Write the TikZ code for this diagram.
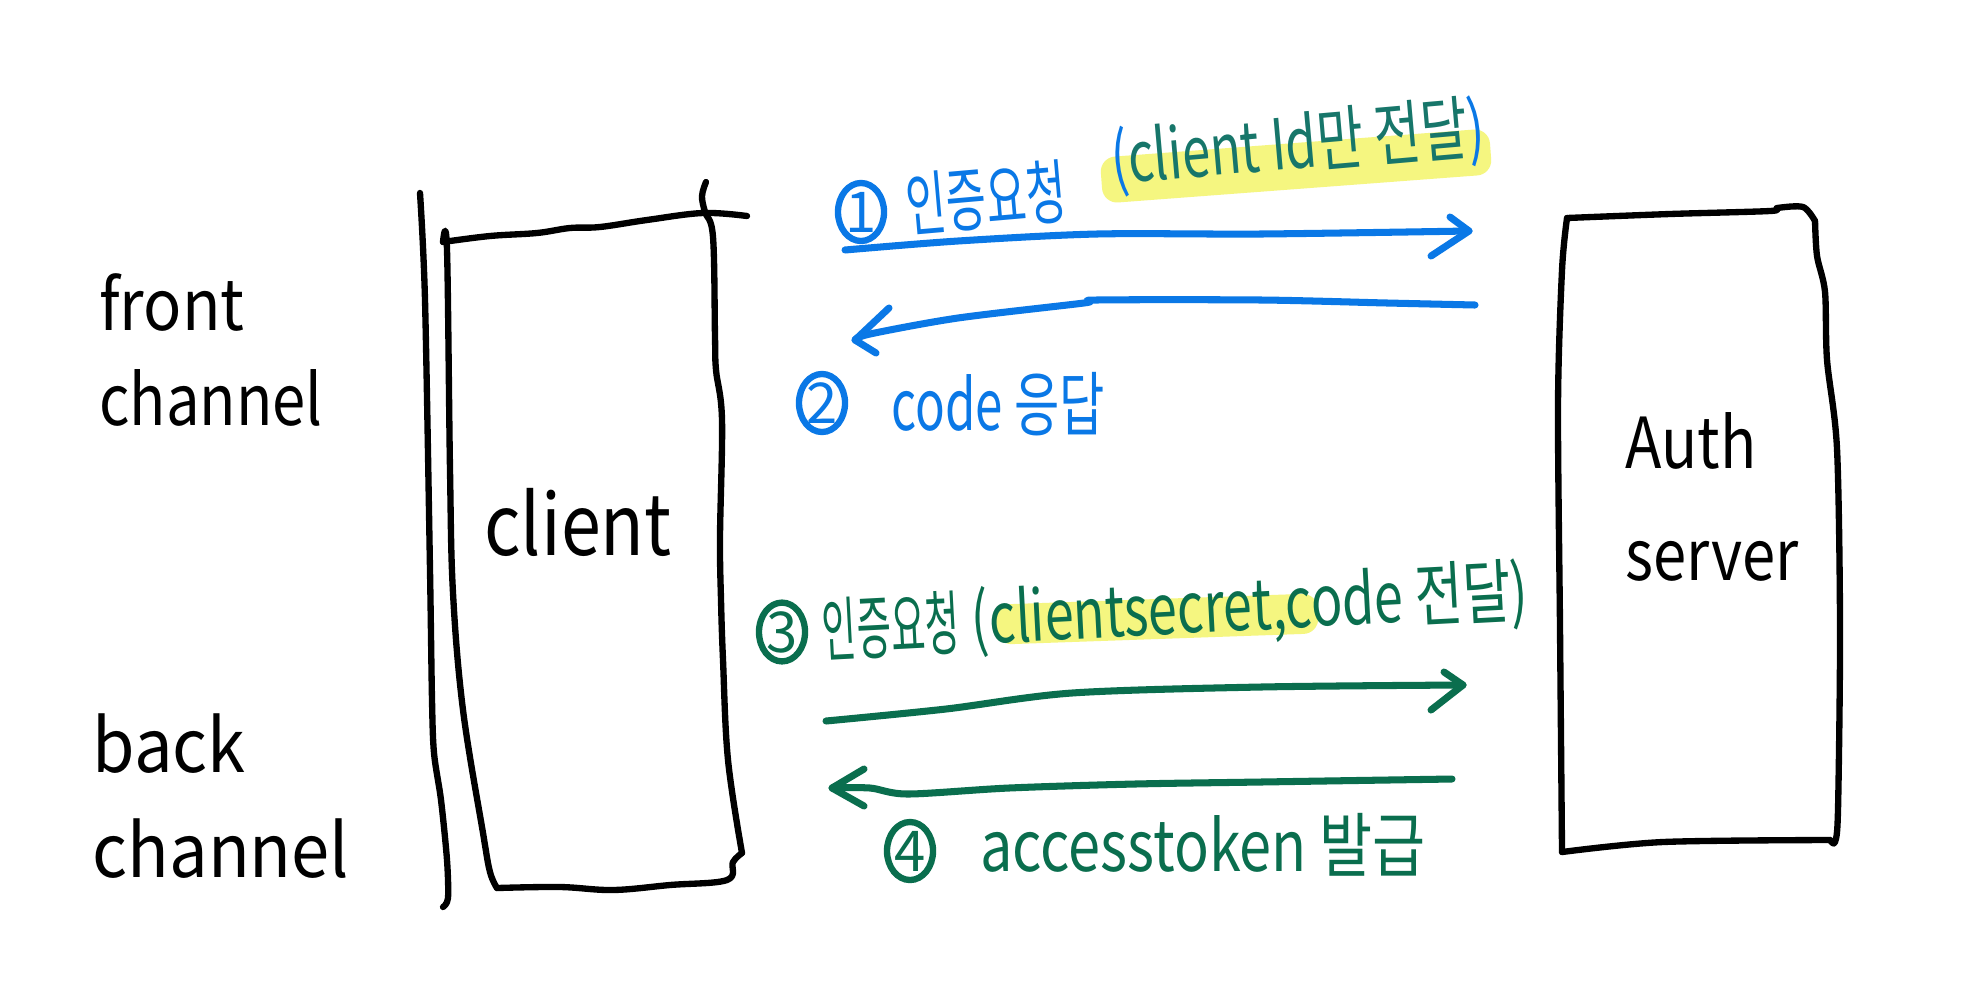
\documentclass[tikz,border=0pt]{standalone}
\usepackage{fontspec}
\usepackage{graphicx}
\setmainfont{Noto Sans CJK KR}
\usetikzlibrary{shapes.geometric}
\definecolor{inkblue}{HTML}{0A78E6}
\definecolor{inkgreen}{HTML}{0A6E4E}
\definecolor{inkteal}{HTML}{17766A}
\definecolor{hiyellow}{HTML}{F5F680}
\newcommand{\squeeze}[2]{\scalebox{#1}[1]{#2}}
\tikzset{
  pen/.style={line width=1.8pt, line cap=round, line join=round},
  bluepen/.style={pen, draw=inkblue, line width=2pt},
  greenpen/.style={pen, draw=inkgreen, line width=2pt},
  numc/.style={ellipse, draw, line width=1.8pt, minimum width=0.46cm, minimum height=0.58cm, inner sep=0pt, font=\fontsize{16}{16}\selectfont},
  lbl/.style={inner sep=0pt, font=\fontsize{20}{24}\selectfont},
  hilite/.style={fill=hiyellow, rounded corners=0.15cm, draw=none}
}
\begin{document}
\begin{tikzpicture}[x=0.01cm,y=-0.01cm]
\useasboundingbox (0,0) rectangle (1977,1000);
\fill[white] (0,0) rectangle (1977,1000);

% long left divider line
\coordinate (divt) at (420,193);
\coordinate (divb) at (443,907);
\draw[pen] plot[smooth] coordinates {(divt) (425,300) (430,570) (432,700) (434,753) (441,800) (447,860) (448,898) (divb)};

% client box
\draw[pen] plot[smooth, tension=0.6] coordinates {(443,242) (490,236) (537,233) (570,228) (600,227) (647,220) (703,213) (747,216)};
\draw[pen] plot[smooth, tension=0.6] coordinates {(706,182) (702,196) (705,212) (713,237) (715,337) (716,370) (722,420) (720,537) (721,600) (723,660) (728,760) (742,853)};
\draw[pen] plot[smooth, tension=0.6] coordinates {(742,853) (733,862) (727,880) (670,885) (613,890) (560,887) (497,888)};
\draw[pen] plot[smooth, tension=0.6] coordinates {(497,888) (490,872) (483,833) (463,710) (453,593) (450,470) (447,250) (443,242)};
\node[lbl, font=\fontsize{24}{28}\selectfont] (client) at (578,522) {\squeeze{0.85}{client}};

% auth server box
\draw[pen] plot[smooth, tension=0.5] coordinates {(1567,218) (1670,214) (1770,211) (1777,208) (1803,207) (1815,221)};
\draw[pen] plot[smooth, tension=0.5] coordinates {(1815,221) (1817,256) (1825,292) (1827,360) (1837,449) (1840,629) (1838,809) (1835,842) (1830,840)};
\draw[pen] plot[smooth, tension=0.5] coordinates {(1830,840) (1663,842) (1562,852)};
\draw[pen] plot[smooth, tension=0.5] coordinates {(1562,852) (1560,629) (1558,404) (1562,270) (1567,218)};
\node[lbl, align=left, font=\fontsize{20}{34}\selectfont] (auth) at (1712,497) {\squeeze{0.85}{Auth}\\[-2pt]\squeeze{0.85}{server}};

% channel labels
\node[lbl, align=left, font=\fontsize{20}{27}\selectfont] (front) at (211,350) {\squeeze{0.9}{front}\\\squeeze{0.85}{channel}};
\node[lbl, align=left, font=\fontsize{21}{30}\selectfont] (back) at (221,796) {\squeeze{0.93}{back}\\\squeeze{0.93}{channel}};

% ---- step 1 ----
\node[hilite, minimum width=3.9cm, minimum height=0.46cm, rotate=4.3] (hl1) at (1296,166) {};
\node[numc, draw=inkblue, text=inkblue] (n1) at (861,212) {1};
\node[lbl, text=inkblue, rotate=5] (t1a) at (986,198) {\squeeze{0.62}{인증요청}};
\node[lbl, rotate=5] (t1b) at (1298,146) {\squeeze{0.72}{{\color{inkblue}(}{\color{inkteal}client Id만 전달}{\color{inkblue})}}};
\coordinate (a1s) at (845,250);
\coordinate (a1t) at (1469,231);
\draw[bluepen] plot[smooth] coordinates {(a1s) (958,241) (1097,234) (1261,234) (a1t)};
\draw[bluepen] (1450,217) -- (a1t) -- (1431,256);

% ---- step 2 ----
\coordinate (a2s) at (1475,305);
\coordinate (a2t) at (855,340);
\draw[bluepen] plot[smooth] coordinates {(a2s) (1387,303) (1261,300) (1097,300) (1084,303) (958,318) (870,334) (a2t)};
\draw[bluepen] (889,308) -- (a2t) -- (876,353);
\node[numc, draw=inkblue, text=inkblue] (n2) at (822,403) {2};
\node[lbl, text=inkblue] (t2) at (998,404) {\squeeze{0.7}{code 응답}};

% ---- step 3 ----
\node[hilite, minimum width=3.22cm, minimum height=0.40cm, rotate=2] (hl3) at (1157,619) {};
\node[numc, draw=inkgreen, text=inkgreen] (n3) at (782,632) {3};
\node[lbl, text=inkgreen, rotate=3] (t3a) at (891,626) {\squeeze{0.53}{인증요청}};
\node[lbl, text=inkgreen, rotate=3] (t3b) at (1250,608) {\squeeze{0.74}{(clientsecret,code 전달)}};
\coordinate (a3s) at (826,721);
\coordinate (a3t) at (1463,685);
\draw[greenpen] plot[smooth] coordinates {(a3s) (946,709) (1072,693) (1261,687) (a3t)};
\draw[greenpen] (1444,672) -- (a3t) -- (1431,710);

% ---- step 4 ----
\coordinate (a4s) at (1452,779);
\coordinate (a4t) at (832,788);
\draw[greenpen] plot[smooth] coordinates {(a4s) (1261,782) (1135,784) (1009,788) (908,794) (870,788) (a4t)};
\draw[greenpen] (864,769) -- (a4t) -- (864,806);
\node[numc, draw=inkgreen, text=inkgreen] (n4) at (910,851) {4};
\node[lbl, text=inkgreen] (t4) at (1203,845) {\squeeze{0.82}{accesstoken 발급}};
\end{tikzpicture}
\end{document}
